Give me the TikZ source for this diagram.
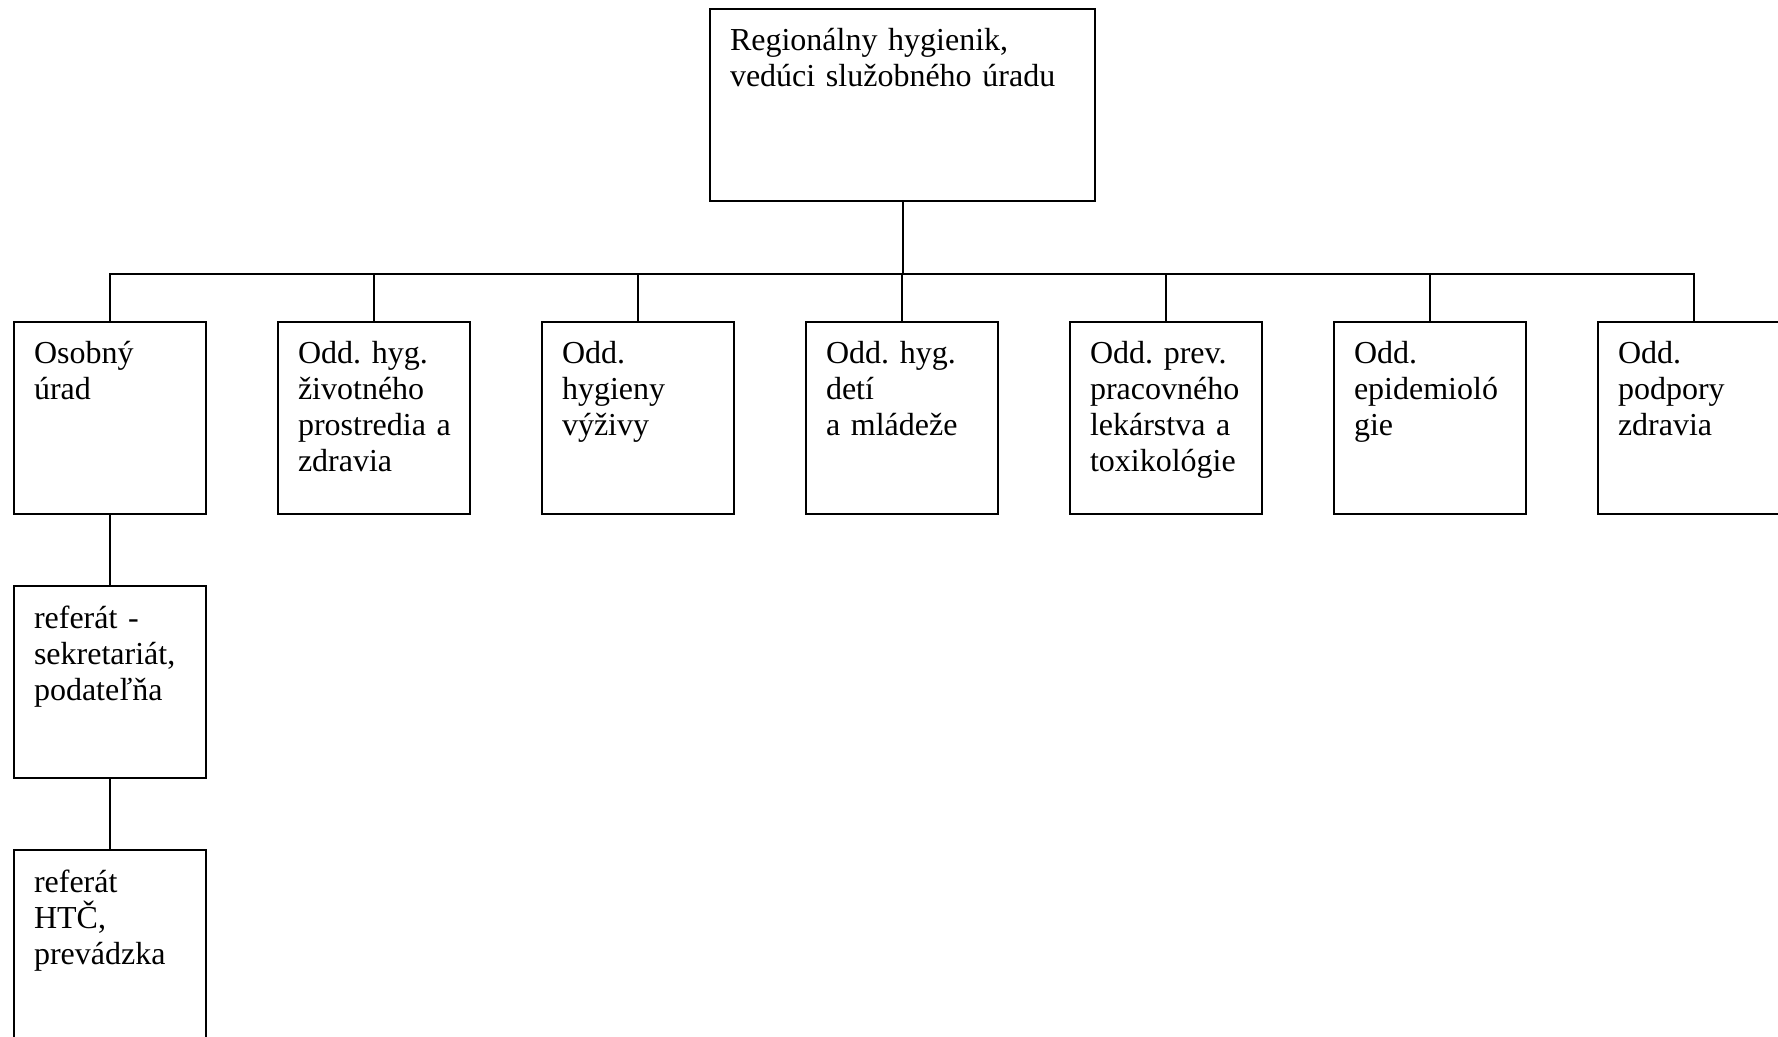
\documentclass[tikz,border=0pt]{standalone}
\usepackage{fontspec}
\setmainfont{Liberation Serif}
\usetikzlibrary{positioning}
\def\colsep{264}

\begin{document}
\begin{tikzpicture}[x=0.4pt, y=0.4pt, line width=0.8pt, node distance=28pt]
    \tikzstyle{unit}=[draw, rectangle, inner xsep=8pt, inner ysep=0pt, align=left, font=\fontsize{12.8}{14.4}\selectfont\frenchspacing, text height=16.8pt]
    \tikzstyle{head unit}=[unit, text width=138pt, text depth=60pt]
    \tikzstyle{dept unit}=[unit, text width=60.8pt, text depth=60pt]

    \useasboundingbox (0,0) rectangle (1778,-1037);

    % Head of the office
    \node[head unit, anchor=north west] (head) at (709,-8) {Regionálny hygienik,\\vedúci služobného úradu};

    % Departments in one row
    \foreach \name / \txt in {1/{Osobný\\úrad},
                              2/{Odd. hyg.\\životného\\prostredia~a\\zdravia},
                              3/{Odd.\\hygieny\\výživy},
                              4/{Odd. hyg.\\detí\\a mládeže},
                              5/{Odd. prev.\\pracovného\\lekárstva~a\\toxikológie},
                              6/{Odd.\\epidemioló\\gie},
                              7/{Odd.\\podpory\\zdravia}}
        \node[dept unit, anchor=north west] (D-\name) at ({13+\colsep*(\name-1)},-321) {\txt};

    % Sections under the personnel office
    \node[dept unit, below=of D-1] (S-1) {referát -\\sekretariát,\\podateľňa};
    \node[dept unit, below=of S-1] (S-2) {referát\\HTČ,\\prevádzka};

    % Connect the head with every department
    \path (head.south) ++(0,-72) coordinate (bus);
    \draw (head.south) -- (bus);
    \foreach \name in {1,...,7}
        \draw (bus) -| (D-\name.north);

    \draw (D-1) -- (S-1);
    \draw (S-1) -- (S-2);
\end{tikzpicture}
\end{document}
